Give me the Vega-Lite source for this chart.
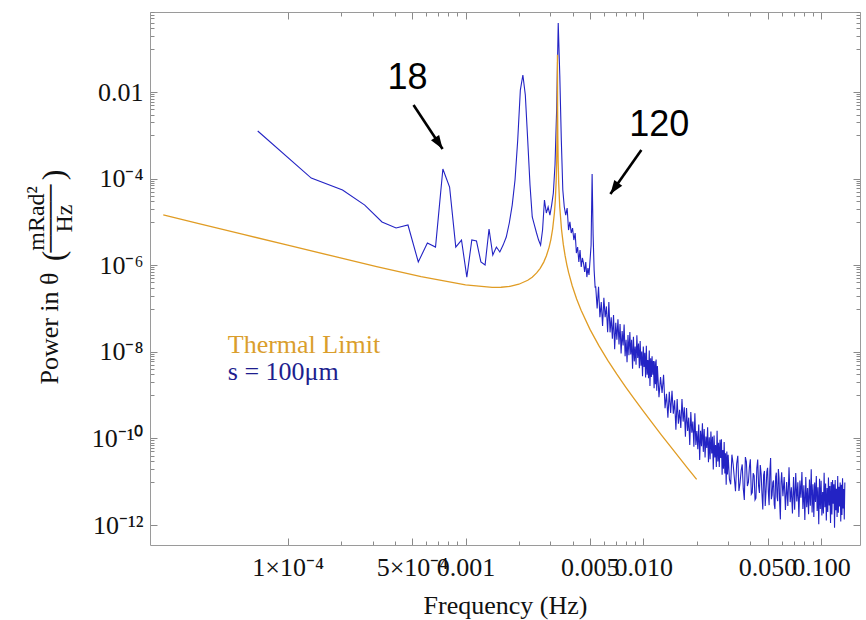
{
  "$schema": "https://vega.github.io/schema/vega-lite/v6.json",
  "width": 710,
  "height": 533,
  "autosize": {"type": "none"},
  "padding": {"left": 150, "top": 12, "right": 6, "bottom": 75},
  "background": "white",
  "config": {
    "view": {"stroke": null},
    "axis": {
      "domainColor": "#9a9a9a",
      "tickColor": "#8a8a8a",
      "tickWidth": 1,
      "labelFont": "Liberation Serif",
      "titleFont": "Liberation Serif",
      "labelFontSize": 26,
      "titleFontSize": 26,
      "labelColor": "#111111",
      "titleColor": "#111111",
      "titleFontWeight": "normal",
      "grid": false,
      "labelOverlap": false,
      "labelBound": false,
      "labelFlush": false
    }
  },
  "datasets": {
    "spectrum": [
      {"f": 0.0000678, "p": 1.26e-3}, {"f": 0.0001356, "p": 1.03e-4}, {"f": 0.0002034, "p": 5.46e-5}, {"f": 0.0002712, "p": 2.45e-5},
      {"f": 0.000339, "p": 1.0e-5}, {"f": 0.0004068, "p": 7.23e-6}, {"f": 0.0004746, "p": 8.48e-6}, {"f": 0.0005424, "p": 1.19e-6},
      {"f": 0.0006102, "p": 3.26e-6}, {"f": 0.000678, "p": 2.63e-6}, {"f": 0.0007458, "p": 1.67e-4}, {"f": 0.0008136, "p": 6.4e-5},
      {"f": 0.0008814, "p": 2.63e-6}, {"f": 0.0009492, "p": 3.82e-6}, {"f": 0.001017, "p": 5.33e-7}, {"f": 0.0010848, "p": 3.82e-6},
      {"f": 0.0011526, "p": 3.62e-6}, {"f": 0.0012204, "p": 1.19e-6}, {"f": 0.0012882, "p": 1.01e-6}, {"f": 0.001356, "p": 6.86e-6},
      {"f": 0.0014238, "p": 1.72e-6}, {"f": 0.0014916, "p": 2.63e-6}, {"f": 0.0015594, "p": 2.02e-6}, {"f": 0.0016272, "p": 2.92e-6},
      {"f": 0.001695, "p": 4.48e-6}, {"f": 0.0017628, "p": 9.44e-6}, {"f": 0.0018306, "p": 2.45e-5}, {"f": 0.0018984, "p": 9.29e-5},
      {"f": 0.0019662, "p": 7.78e-4}, {"f": 0.002034, "p": 1.11e-2}, {"f": 0.0021018, "p": 2.47e-2}, {"f": 0.0021696, "p": 8.53e-3},
      {"f": 0.0022374, "p": 7.78e-4}, {"f": 0.0023052, "p": 7.11e-5}, {"f": 0.002373, "p": 1.30e-5}, {"f": 0.0024408, "p": 8.48e-6},
      {"f": 0.0025086, "p": 5.55e-6}, {"f": 0.0025764, "p": 3.82e-6}, {"f": 0.0026442, "p": 2.92e-6}, {"f": 0.002712, "p": 6.5e-6},
      {"f": 0.0027798, "p": 3.21e-5}, {"f": 0.0028476, "p": 1.61e-5}, {"f": 0.0029154, "p": 2.21e-5}, {"f": 0.0029832, "p": 1.44e-5},
      {"f": 0.003051, "p": 2.45e-5}, {"f": 0.0031188, "p": 4.65e-5}, {"f": 0.0031866, "p": 2.06e-4}, {"f": 0.0032544, "p": 3.84e-3},
      {"f": 0.0033222, "p": 0.393}, {"f": 0.00339, "p": 2.47e-2}, {"f": 0.0034578, "p": 7.78e-4}, {"f": 0.0035256, "p": 5.46e-5},
      {"f": 0.0035934, "p": 2.21e-5}, {"f": 0.0036612, "p": 1.44e-5}, {"f": 0.003729, "p": 2.09e-5}, {"f": 0.0037968, "p": 6.5e-6},
      {"f": 0.0038646, "p": 1.0e-5}, {"f": 0.0039324, "p": 5.55e-6}, {"f": 0.0040002, "p": 7.23e-6}, {"f": 0.004068, "p": 3.82e-6},
      {"f": 0.0041358, "p": 5.55e-6}, {"f": 0.0042036, "p": 1.91e-6}, {"f": 0.0042714, "p": 2.63e-6}, {"f": 0.0043392, "p": 1.19e-6},
      {"f": 0.004407, "p": 2.25e-6}, {"f": 0.0044748, "p": 9.08e-7}, {"f": 0.0045426, "p": 1.47e-6}, {"f": 0.0046104, "p": 1.12e-6},
      {"f": 0.0046782, "p": 6.97e-7}, {"f": 0.004746, "p": 1.19e-6}, {"f": 0.0048138, "p": 5.33e-7}, {"f": 0.0048816, "p": 8.61e-7},
      {"f": 0.0049494, "p": 5.94e-7}, {"f": 0.0050172, "p": 1.32e-6}, {"f": 0.005085, "p": 2.92e-6}, {"f": 0.0051528, "p": 1.28e-4},
      {"f": 0.0052206, "p": 4.98e-6}, {"f": 0.0052884, "p": 7.74e-7}, {"f": 0.0053562, "p": 3.14e-7},
      {"f": 0.0054, "p": 3.16e-7}, {"f": 0.0055, "p": 1.00e-7}, {"f": 0.0056, "p": 3.16e-7}, {"f": 0.0057, "p": 6.31e-8},
      {"f": 0.0058, "p": 1.41e-7}, {"f": 0.0059, "p": 3.98e-8}, {"f": 0.0060, "p": 1.78e-7}, {"f": 0.0061, "p": 6.31e-8},
      {"f": 0.0062, "p": 1.12e-7}, {"f": 0.0063, "p": 2.82e-8}, {"f": 0.0064, "p": 1.41e-7}, {"f": 0.0065, "p": 2.82e-8},
      {"f": 0.0066, "p": 6.31e-8}, {"f": 0.0067, "p": 2.00e-8}, {"f": 0.0068, "p": 7.08e-8}, {"f": 0.0069, "p": 1.15e-8},
      {"f": 0.0070, "p": 4.68e-8}, {"f": 0.0071, "p": 1.91e-8}, {"f": 0.0072, "p": 5.62e-8}, {"f": 0.0073, "p": 1.48e-8},
      {"f": 0.0074, "p": 4.37e-8}, {"f": 0.0075, "p": 9.12e-9}, {"f": 0.0076, "p": 3.02e-8}, {"f": 0.0077, "p": 1.41e-8},
      {"f": 0.0078, "p": 4.27e-8}, {"f": 0.0079, "p": 7.94e-9}, {"f": 0.0080, "p": 1.91e-8}, {"f": 0.0081, "p": 5.75e-9},
      {"f": 0.0082, "p": 2.45e-8}, {"f": 0.0083, "p": 8.32e-9}, {"f": 0.0084, "p": 2.88e-8}, {"f": 0.0085, "p": 8.71e-9},
      {"f": 0.0086, "p": 1.91e-8}, {"f": 0.0087, "p": 4.07e-9}, {"f": 0.0088, "p": 2.24e-8}, {"f": 0.0089, "p": 6.03e-9},
      {"f": 0.0090, "p": 1.32e-8}, {"f": 0.0091, "p": 5.01e-9}, {"f": 0.0092, "p": 2.40e-8}, {"f": 0.0093, "p": 7.24e-9},
      {"f": 0.0094, "p": 1.55e-8}, {"f": 0.0095, "p": 4.17e-9}, {"f": 0.0096, "p": 1.78e-8}, {"f": 0.0097, "p": 4.79e-9},
      {"f": 0.0098, "p": 1.02e-8}, {"f": 0.0099, "p": 2.75e-9}, {"f": 0.0100, "p": 1.32e-8}, {"f": 0.0101, "p": 4.47e-9},
      {"f": 0.0102, "p": 9.55e-9}, {"f": 0.0103, "p": 2.57e-9}, {"f": 0.0104, "p": 1.38e-8}, {"f": 0.0105, "p": 2.95e-9},
      {"f": 0.0106, "p": 6.46e-9}, {"f": 0.0107, "p": 2.45e-9}, {"f": 0.0108, "p": 1.07e-8}, {"f": 0.0109, "p": 1.62e-9},
      {"f": 0.0110, "p": 7.08e-9}, {"f": 0.0111, "p": 2.63e-9}, {"f": 0.0112, "p": 7.94e-9}, {"f": 0.0113, "p": 2.95e-9},
      {"f": 0.0114, "p": 6.17e-9}, {"f": 0.0115, "p": 1.45e-9}, {"f": 0.0116, "p": 6.03e-9}, {"f": 0.0117, "p": 1.78e-9},
      {"f": 0.0118, "p": 6.61e-9}, {"f": 0.0119, "p": 1.26e-9},
      {"f": 0.01200, "p": 4.68e-9}, {"f": 0.01225, "p": 8.91e-10}, {"f": 0.01250, "p": 2.63e-9}, {"f": 0.01275, "p": 1.12e-9},
      {"f": 0.01300, "p": 2.95e-9}, {"f": 0.01325, "p": 5.01e-10}, {"f": 0.01350, "p": 1.07e-9}, {"f": 0.01375, "p": 3.02e-10},
      {"f": 0.01400, "p": 1.20e-9}, {"f": 0.01425, "p": 3.89e-10}, {"f": 0.01450, "p": 1.26e-9}, {"f": 0.01475, "p": 3.72e-10},
      {"f": 0.01500, "p": 7.59e-10}, {"f": 0.01525, "p": 1.58e-10}, {"f": 0.01550, "p": 8.13e-10}, {"f": 0.01575, "p": 2.19e-10},
      {"f": 0.01600, "p": 4.57e-10}, {"f": 0.01625, "p": 1.74e-10}, {"f": 0.01650, "p": 8.13e-10}, {"f": 0.01675, "p": 2.45e-10},
      {"f": 0.01700, "p": 5.25e-10}, {"f": 0.01725, "p": 1.10e-10}, {"f": 0.01750, "p": 5.01e-10}, {"f": 0.01775, "p": 1.48e-10},
      {"f": 0.01800, "p": 3.02e-10}, {"f": 0.01825, "p": 7.08e-11}, {"f": 0.01850, "p": 4.07e-10}, {"f": 0.01875, "p": 1.35e-10},
      {"f": 0.01900, "p": 2.45e-10}, {"f": 0.01925, "p": 6.46e-11}, {"f": 0.01950, "p": 3.80e-10}, {"f": 0.01975, "p": 7.08e-11},
      {"f": 0.02000, "p": 1.48e-10}, {"f": 0.02025, "p": 5.62e-11}, {"f": 0.02050, "p": 2.09e-10}, {"f": 0.02075, "p": 3.16e-11},
      {"f": 0.02100, "p": 1.51e-10}, {"f": 0.02125, "p": 6.61e-11}, {"f": 0.02150, "p": 2.24e-10}, {"f": 0.02175, "p": 4.90e-11},
      {"f": 0.02200, "p": 1.66e-10}, {"f": 0.02225, "p": 3.63e-11}, {"f": 0.02250, "p": 1.10e-10}, {"f": 0.02275, "p": 6.03e-11},
      {"f": 0.02300, "p": 1.82e-10}, {"f": 0.02325, "p": 2.82e-11}, {"f": 0.02350, "p": 1.07e-10}, {"f": 0.02375, "p": 3.31e-11},
      {"f": 0.02400, "p": 1.45e-10}, {"f": 0.02425, "p": 4.47e-11}, {"f": 0.02450, "p": 1.10e-10}, {"f": 0.02475, "p": 1.91e-11},
      {"f": 0.02500, "p": 1.17e-10}, {"f": 0.02525, "p": 3.63e-11}, {"f": 0.02550, "p": 7.08e-11}, {"f": 0.02575, "p": 2.19e-11},
      {"f": 0.02600, "p": 1.51e-10}, {"f": 0.02625, "p": 2.95e-11}, {"f": 0.02650, "p": 7.94e-11}, {"f": 0.02675, "p": 2.19e-11},
      {"f": 0.02700, "p": 9.33e-11}, {"f": 0.02725, "p": 3.55e-11}, {"f": 0.02750, "p": 9.55e-11}, {"f": 0.02775, "p": 1.45e-11},
      {"f": 0.02800, "p": 5.37e-11}, {"f": 0.02825, "p": 2.00e-11}, {"f": 0.02850, "p": 8.32e-11}, {"f": 0.02875, "p": 1.55e-11},
      {"f": 0.02900, "p": 4.57e-11}, {"f": 0.02925, "p": 8.51e-12}, {"f": 0.02950, "p": 5.01e-11}, {"f": 0.02975, "p": 1.48e-11},
      {"f": 0.030, "p": 4.17e-11}, {"f": 0.031, "p": 8.71e-12}, {"f": 0.032, "p": 2.57e-11}, {"f": 0.033, "p": 6.03e-12},
      {"f": 0.034, "p": 3.98e-11}, {"f": 0.035, "p": 9.33e-12}, {"f": 0.036, "p": 2.51e-11}, {"f": 0.037, "p": 3.80e-12},
      {"f": 0.038, "p": 2.88e-11}, {"f": 0.039, "p": 9.77e-12}, {"f": 0.040, "p": 3.31e-11}, {"f": 0.041, "p": 5.62e-12},
      {"f": 0.042, "p": 1.38e-11}, {"f": 0.043, "p": 4.17e-12}, {"f": 0.044, "p": 3.24e-11}, {"f": 0.045, "p": 5.50e-12},
      {"f": 0.046, "p": 1.51e-11}, {"f": 0.047, "p": 2.29e-12}, {"f": 0.048, "p": 1.78e-11}, {"f": 0.049, "p": 6.03e-12},
      {"f": 0.050, "p": 2.09e-11}, {"f": 0.051, "p": 2.88e-12}, {"f": 0.052, "p": 3.55e-11}, {"f": 0.053, "p": 4.90e-12},
      {"f": 0.054, "p": 1.07e-11}, {"f": 0.055, "p": 2.34e-12}, {"f": 0.056, "p": 1.62e-11}, {"f": 0.057, "p": 3.55e-12},
      {"f": 0.058, "p": 1.23e-11}, {"f": 0.059, "p": 1.35e-12},
      {"f": 0.0305, "p": 1.14e-11}, {"f": 0.0315, "p": 4.22e-11}, {"f": 0.0325, "p": 1.24e-11}, {"f": 0.0335, "p": 2.60e-11},
      {"f": 0.0345, "p": 6.10e-12}, {"f": 0.0355, "p": 1.82e-11}, {"f": 0.0365, "p": 6.92e-12}, {"f": 0.0375, "p": 3.72e-11},
      {"f": 0.0385, "p": 7.94e-12}, {"f": 0.0395, "p": 2.14e-11}, {"f": 0.0405, "p": 5.13e-12}, {"f": 0.0415, "p": 1.57e-11},
      {"f": 0.0425, "p": 3.80e-12}, {"f": 0.0435, "p": 2.07e-11}, {"f": 0.0445, "p": 7.94e-12}, {"f": 0.0455, "p": 2.43e-11},
      {"f": 0.0465, "p": 5.25e-12}, {"f": 0.0475, "p": 1.43e-11}, {"f": 0.0485, "p": 2.75e-12}, {"f": 0.0495, "p": 1.68e-11},
      {"f": 0.0505, "p": 5.82e-12}, {"f": 0.0515, "p": 1.80e-11}, {"f": 0.0525, "p": 3.94e-12}, {"f": 0.0535, "p": 9.66e-12},
      {"f": 0.0545, "p": 2.99e-12}, {"f": 0.0555, "p": 1.30e-11}, {"f": 0.0565, "p": 4.52e-12}, {"f": 0.0575, "p": 1.97e-11},
      {"f": 0.0585, "p": 3.05e-12}, {"f": 0.0595, "p": 9.44e-12},
      {"f": 0.060, "p": 1.66e-11}, {"f": 0.061, "p": 4.62e-12},
      {"f": 0.062, "p": 1.29e-11}, {"f": 0.063, "p": 2.24e-12}, {"f": 0.064, "p": 9.89e-12}, {"f": 0.065, "p": 2.75e-12},
      {"f": 0.066, "p": 2.16e-11}, {"f": 0.067, "p": 3.39e-12}, {"f": 0.068, "p": 7.41e-12}, {"f": 0.069, "p": 1.84e-12},
      {"f": 0.070, "p": 1.29e-11}, {"f": 0.071, "p": 2.26e-12}, {"f": 0.072, "p": 1.58e-11}, {"f": 0.073, "p": 3.51e-12},
      {"f": 0.074, "p": 9.77e-12}, {"f": 0.075, "p": 1.53e-12}, {"f": 0.076, "p": 1.07e-11}, {"f": 0.077, "p": 4.27e-12},
      {"f": 0.078, "p": 1.68e-11}, {"f": 0.079, "p": 2.34e-12}, {"f": 0.080, "p": 8.32e-12}, {"f": 0.081, "p": 1.30e-12},
      {"f": 0.082, "p": 1.29e-11}, {"f": 0.083, "p": 2.57e-12}, {"f": 0.084, "p": 7.16e-12}, {"f": 0.085, "p": 1.78e-12},
      {"f": 0.086, "p": 1.12e-11}, {"f": 0.087, "p": 2.79e-12}, {"f": 0.088, "p": 1.95e-11}, {"f": 0.089, "p": 1.95e-12},
      {"f": 0.090, "p": 8.71e-12}, {"f": 0.091, "p": 1.53e-12}, {"f": 0.092, "p": 9.55e-12}, {"f": 0.093, "p": 3.39e-12},
      {"f": 0.094, "p": 1.35e-11}, {"f": 0.095, "p": 2.11e-12}, {"f": 0.096, "p": 7.50e-12}, {"f": 0.097, "p": 1.05e-12},
      {"f": 0.098, "p": 1.17e-11}, {"f": 0.099, "p": 2.34e-12}, {"f": 0.100, "p": 1.05e-11}, {"f": 0.101, "p": 1.66e-12},
      {"f": 0.102, "p": 5.82e-12}, {"f": 0.103, "p": 1.84e-12}, {"f": 0.104, "p": 1.62e-11}, {"f": 0.105, "p": 2.57e-12},
      {"f": 0.106, "p": 9.12e-12}, {"f": 0.107, "p": 1.27e-12}, {"f": 0.108, "p": 7.16e-12}, {"f": 0.109, "p": 2.00e-12},
      {"f": 0.110, "p": 1.26e-11}, {"f": 0.111, "p": 2.82e-12}, {"f": 0.112, "p": 7.94e-12}, {"f": 0.113, "p": 1.11e-12},
      {"f": 0.114, "p": 9.89e-12}, {"f": 0.115, "p": 1.76e-12}, {"f": 0.116, "p": 1.10e-11}, {"f": 0.117, "p": 3.09e-12},
      {"f": 0.118, "p": 8.71e-12}, {"f": 0.119, "p": 8.71e-13}, {"f": 0.120, "p": 1.10e-11}, {"f": 0.121, "p": 2.19e-12},
      {"f": 0.122, "p": 6.84e-12}, {"f": 0.123, "p": 1.53e-12}, {"f": 0.124, "p": 1.36e-11}, {"f": 0.125, "p": 1.93e-12},
      {"f": 0.126, "p": 7.67e-12}, {"f": 0.127, "p": 2.69e-12}, {"f": 0.128, "p": 9.55e-12}, {"f": 0.129, "p": 1.20e-12},
      {"f": 0.130, "p": 8.51e-12}, {"f": 0.131, "p": 1.70e-12}, {"f": 0.132, "p": 1.20e-11}, {"f": 0.133, "p": 2.40e-12},
      {"f": 0.134, "p": 6.76e-12}, {"f": 0.135, "p": 1.35e-12}, {"f": 0.136, "p": 9.55e-12}
    ],
    "thermal": [
      {"f": 1.995e-5, "p": 1.452e-5}, {"f": 3.162e-5, "p": 9.16e-6}, {"f": 5.623e-5, "p": 5.15e-6}, {"f": 1.0e-4, "p": 2.90e-6},
      {"f": 1.778e-4, "p": 1.64e-6}, {"f": 3.162e-4, "p": 9.33e-7}, {"f": 5.623e-4, "p": 5.47e-7}, {"f": 1.0e-3, "p": 3.52e-7},
      {"f": 1.413e-3, "p": 3.08e-7}, {"f": 1.585e-3, "p": 3.10e-7}, {"f": 1.778e-3, "p": 3.26e-7}, {"f": 1.995e-3, "p": 3.64e-7},
      {"f": 2.239e-3, "p": 4.50e-7}, {"f": 2.371e-3, "p": 5.30e-7}, {"f": 2.512e-3, "p": 6.64e-7}, {"f": 2.630e-3, "p": 8.49e-7},
      {"f": 2.754e-3, "p": 1.18e-6}, {"f": 2.851e-3, "p": 1.65e-6}, {"f": 2.951e-3, "p": 2.59e-6}, {"f": 3.020e-3, "p": 3.91e-6},
      {"f": 3.090e-3, "p": 6.86e-6}, {"f": 3.162e-3, "p": 1.61e-5},
      {"f": 3.199e-3, "p": 3.13e-5}, {"f": 3.236e-3, "p": 8.89e-5}, {"f": 3.258e-3, "p": 2.66e-4}, {"f": 3.273e-3, "p": 1.04e-3},
      {"f": 3.281e-3, "p": 3.94e-3}, {"f": 3.289e-3, "p": 7.28e-2}, {"f": 3.296e-3, "p": 3.90e-3}, {"f": 3.304e-3, "p": 1.01e-3},
      {"f": 3.319e-3, "p": 2.52e-4}, {"f": 3.342e-3, "p": 8.05e-5}, {"f": 3.388e-3, "p": 2.24e-5}, {"f": 3.467e-3, "p": 6.70e-6},
      {"f": 3.548e-3, "p": 3.03e-6}, {"f": 3.631e-3, "p": 1.66e-6}, {"f": 3.715e-3, "p": 1.02e-6}, {"f": 3.802e-3, "p": 6.73e-7},
      {"f": 3.981e-3, "p": 3.36e-7}, {"f": 4.217e-3, "p": 1.66e-7}, {"f": 4.467e-3, "p": 9.08e-8},
      {"f": 5.012e-3, "p": 3.30e-8}, {"f": 5.623e-3, "p": 1.39e-8}, {"f": 6.310e-3, "p": 6.38e-9}, {"f": 7.079e-3, "p": 3.10e-9},
      {"f": 7.943e-3, "p": 1.56e-9}, {"f": 8.913e-3, "p": 8.07e-10}, {"f": 1.0e-2, "p": 4.26e-10}, {"f": 1.122e-2, "p": 2.28e-10},
      {"f": 1.259e-2, "p": 1.23e-10}, {"f": 1.413e-2, "p": 6.73e-11}, {"f": 1.585e-2, "p": 3.70e-11}, {"f": 1.778e-2, "p": 2.04e-11},
      {"f": 1.995e-2, "p": 1.13e-11}
    ],
    "legendText": [
      {"f": 4.6e-5, "p": 1.44e-8, "label": "Thermal Limit"},
      {"f": 4.6e-5, "p": 3.41e-9, "label": "s = 100μm"}
    ],
    "notes": [
      {"f": 4.72e-4, "p": 0.021, "label": "18"},
      {"f": 0.0123, "p": 1.73e-3, "label": "120"}
    ],
    "arrows": [
      {"label": "18", "f1": 5.1e-4, "p1": 5.0e-3, "f2": 7.43e-4, "p2": 4.83e-4},
      {"label": "120", "f1": 9.75e-3, "p1": 4.58e-4, "f2": 6.53e-3, "p2": 4.41e-5}
    ]
  },
  "resolve": {"axis": {"x": "independent", "y": "independent"}},
  "layer": [
    {
      "data": {"name": "spectrum"},
      "mark": {"type": "line", "color": "#2323c4", "strokeWidth": 1.1, "clip": true},
      "encoding": {
        "x": {
          "field": "f", "type": "quantitative",
          "scale": {"type": "log", "domain": [1.68e-5, 0.1655], "nice": false},
          "axis": {
            "orient": "bottom",
            "title": "Frequency (Hz)",
            "values": [0.0001, 0.0002, 0.0003, 0.0004, 0.0005, 0.0006, 0.0007, 0.0008, 0.0009, 0.001, 0.002, 0.003, 0.004, 0.005, 0.006, 0.007, 0.008, 0.009, 0.01, 0.02, 0.03, 0.04, 0.05, 0.06, 0.07, 0.08, 0.09, 0.1],
            "labelExpr": "datum.value==0.0001?'1×10⁻⁴':datum.value==0.0005?'5×10⁻⁴':datum.value==0.001?'0.001':datum.value==0.005?'0.005':datum.value==0.01?'0.010':datum.value==0.05?'0.050':datum.value==0.1?'0.100':''",
            "tickSize": {"condition": {"test": "datum.value==0.0001||datum.value==0.0005||datum.value==0.001||datum.value==0.005||datum.value==0.01||datum.value==0.05||datum.value==0.1", "value": -7}, "value": -4},
            "labelPadding": 16,
            "titleX": 355,
            "titleY": 60,
            "titleBaseline": "middle"
          }
        },
        "y": {
          "field": "p", "type": "quantitative",
          "scale": {"type": "log", "domain": [3.46e-13, 0.705], "nice": false},
          "axis": {
            "orient": "left",
            "title": "Power in θ",
            "values": [0.7, 0.6, 0.5, 0.4, 0.3, 0.2, 0.1, 0.01, 0.009, 0.008, 0.007, 0.006, 0.005, 0.004, 0.003, 0.002, 0.001, 0.0001, 9e-5, 8e-5, 7e-5, 6e-5, 5e-5, 4e-5, 3e-5, 2e-5, 1e-5, 1e-6, 9e-7, 8e-7, 7e-7, 6e-7, 5e-7, 4e-7, 3e-7, 2e-7, 1e-7, 1e-8, 9e-9, 8e-9, 7e-9, 6e-9, 5e-9, 4e-9, 3e-9, 2e-9, 1e-9, 1e-10, 9e-11, 8e-11, 7e-11, 6e-11, 5e-11, 4e-11, 3e-11, 2e-11, 1e-11, 1e-12],
            "labelExpr": "datum.value==0.01?'0.01':datum.value==0.0001?'10⁻⁴':datum.value==0.000001?'10⁻⁶':datum.value==0.00000001?'10⁻⁸':datum.value==0.0000000001?'10⁻¹⁰':datum.value==0.000000000001?'10⁻¹²':''",
            "tickSize": {"condition": {"test": "datum.value==0.01||datum.value==0.0001||datum.value==0.000001||datum.value==0.00000001||datum.value==0.0000000001||datum.value==0.000000000001", "value": -7}, "value": -4},
            "labelPadding": 14,
            "titleX": -101,
            "titleY": 316,
            "titleAngle": 270,
            "titleBaseline": "middle",
            "titleAlign": "center"
          }
        }
      }
    },
    {
      "data": {"name": "thermal"},
      "mark": {"type": "line", "color": "#E09C24", "strokeWidth": 1.3, "clip": true},
      "encoding": {
        "x": {
          "field": "f", "type": "quantitative",
          "scale": {"type": "log", "domain": [1.68e-5, 0.1655], "nice": false},
          "axis": {
            "orient": "top",
            "title": "(\u2003\u2003\u2009)",
            "titleFontSize": 32,
            "titleX": -97,
            "titleY": 203,
            "titleAngle": 270,
            "titleBaseline": "middle",
            "titleAlign": "center",
            "labels": false,
            "values": [0.0001, 0.0002, 0.0003, 0.0004, 0.0005, 0.0006, 0.0007, 0.0008, 0.0009, 0.001, 0.002, 0.003, 0.004, 0.005, 0.006, 0.007, 0.008, 0.009, 0.01, 0.02, 0.03, 0.04, 0.05, 0.06, 0.07, 0.08, 0.09, 0.1],
            "tickSize": {"condition": {"test": "datum.value==0.0001||datum.value==0.0005||datum.value==0.001||datum.value==0.005||datum.value==0.01||datum.value==0.05||datum.value==0.1", "value": -7}, "value": -4}
          }
        },
        "y": {
          "field": "p", "type": "quantitative",
          "scale": {"type": "log", "domain": [3.46e-13, 0.705], "nice": false},
          "axis": {
            "orient": "right",
            "title": ["mRad²", "────", "Hz"],
            "titleFontSize": 24,
            "titleLineHeight": 14,
            "titleX": -824,
            "titleY": 206,
            "titleAngle": 270,
            "titleBaseline": "middle",
            "titleAlign": "center",
            "labels": false,
            "values": [0.7, 0.6, 0.5, 0.4, 0.3, 0.2, 0.1, 0.01, 0.009, 0.008, 0.007, 0.006, 0.005, 0.004, 0.003, 0.002, 0.001, 0.0001, 9e-5, 8e-5, 7e-5, 6e-5, 5e-5, 4e-5, 3e-5, 2e-5, 1e-5, 1e-6, 9e-7, 8e-7, 7e-7, 6e-7, 5e-7, 4e-7, 3e-7, 2e-7, 1e-7, 1e-8, 9e-9, 8e-9, 7e-9, 6e-9, 5e-9, 4e-9, 3e-9, 2e-9, 1e-9, 1e-10, 9e-11, 8e-11, 7e-11, 6e-11, 5e-11, 4e-11, 3e-11, 2e-11, 1e-11, 1e-12],
            "tickSize": {"condition": {"test": "datum.value==0.01||datum.value==0.0001||datum.value==0.000001||datum.value==0.00000001||datum.value==0.0000000001||datum.value==0.000000000001", "value": -7}, "value": -4}
          }
        }
      }
    },
    {
      "data": {"name": "legendText"},
      "mark": {"type": "text", "align": "left", "baseline": "middle", "font": "Liberation Serif", "fontSize": 26},
      "encoding": {
        "x": {"field": "f", "type": "quantitative", "scale": {"type": "log", "domain": [1.68e-5, 0.1655], "nice": false}, "axis": null},
        "y": {"field": "p", "type": "quantitative", "scale": {"type": "log", "domain": [3.46e-13, 0.705], "nice": false}, "axis": null},
        "text": {"field": "label"},
        "color": {"field": "label", "type": "nominal", "scale": {"domain": ["Thermal Limit", "s = 100μm"], "range": ["#DA9E2C", "#1e1e8e"]}, "legend": null}
      }
    },
    {
      "data": {"name": "notes"},
      "mark": {"type": "text", "align": "center", "baseline": "middle", "font": "Liberation Sans", "fontSize": 36, "color": "#000000"},
      "encoding": {
        "x": {"field": "f", "type": "quantitative", "scale": {"type": "log", "domain": [1.68e-5, 0.1655], "nice": false}, "axis": null},
        "y": {"field": "p", "type": "quantitative", "scale": {"type": "log", "domain": [3.46e-13, 0.705], "nice": false}, "axis": null},
        "text": {"field": "label"}
      }
    },
    {
      "data": {"name": "arrows"},
      "mark": {"type": "rule", "color": "#000000", "strokeWidth": 2.6},
      "encoding": {
        "x": {"field": "f1", "type": "quantitative", "scale": {"type": "log", "domain": [1.68e-5, 0.1655], "nice": false}, "axis": null},
        "y": {"field": "p1", "type": "quantitative", "scale": {"type": "log", "domain": [3.46e-13, 0.705], "nice": false}, "axis": null},
        "x2": {"field": "f2"},
        "y2": {"field": "p2"}
      }
    },
    {
      "data": {"name": "arrows"},
      "transform": [{"filter": "datum.label == '18'"}],
      "mark": {"type": "point", "shape": "M0,0L-0.5,1.4L0.5,1.4Z", "filled": true, "color": "#000000", "opacity": 1, "size": 380, "angle": 146.6},
      "encoding": {
        "x": {"field": "f2", "type": "quantitative", "scale": {"type": "log", "domain": [1.68e-5, 0.1655], "nice": false}, "axis": null},
        "y": {"field": "p2", "type": "quantitative", "scale": {"type": "log", "domain": [3.46e-13, 0.705], "nice": false}, "axis": null}
      }
    },
    {
      "data": {"name": "arrows"},
      "transform": [{"filter": "datum.label == '120'"}],
      "mark": {"type": "point", "shape": "M0,0L-0.5,1.4L0.5,1.4Z", "filled": true, "color": "#000000", "opacity": 1, "size": 380, "angle": 215.2},
      "encoding": {
        "x": {"field": "f2", "type": "quantitative", "scale": {"type": "log", "domain": [1.68e-5, 0.1655], "nice": false}, "axis": null},
        "y": {"field": "p2", "type": "quantitative", "scale": {"type": "log", "domain": [3.46e-13, 0.705], "nice": false}, "axis": null}
      }
    }
  ]
}
